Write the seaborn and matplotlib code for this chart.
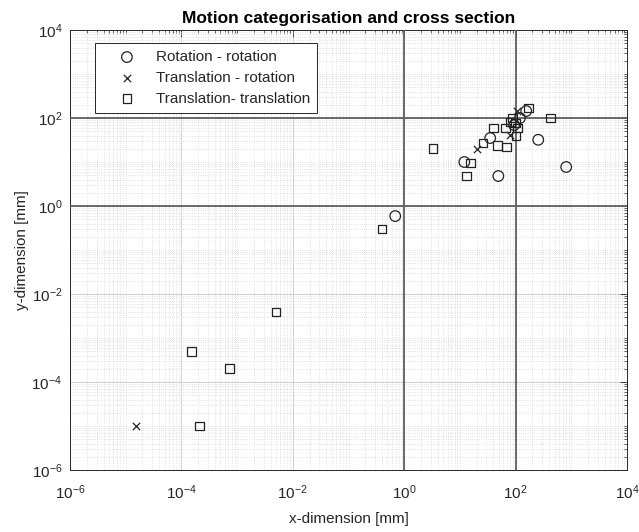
import numpy as np
import pandas as pd
import matplotlib
matplotlib.use("Agg")
import matplotlib.pyplot as plt
import matplotlib.ticker as mticker
import seaborn as sns

# --- data ---
rot_rot_x = [0.69, 12, 49, 35, 255, 810, 94, 120, 155]
rot_rot_y = [0.59, 10, 4.8, 35, 32, 7.7, 69, 100, 144]

trans_rot_x = [1.55e-5, 20, 80, 107]
trans_rot_y = [1.0e-5, 20, 41, 144]

trans_trans_x = [2.1e-4, 1.5e-4, 7.2e-4, 5.0e-3, 0.40, 3.3, 13, 15.3, 26, 47,
                 68, 40, 65, 107, 102, 87, 80, 98, 168, 418]
trans_trans_y = [1.0e-5, 5.0e-4, 2.0e-4, 3.9e-3, 0.30, 20, 4.8, 9.5, 27, 24,
                 22, 59, 59, 59, 39, 100, 81, 77, 168, 100]

labels = ["Rotation - rotation", "Translation - rotation", "Translation- translation"]
x_ticks = [1e-6, 1e-4, 1e-2, 1e0, 1e2, 1e4]
y_ticks = [1e-6, 1e-4, 1e-2, 1e0, 1e2, 1e4]
ref_lines = [1, 100]

sns.set_style("white")
plt.rcParams['font.family'] = ['Liberation Sans', 'DejaVu Sans']
plt.rcParams['mathtext.fontset'] = 'custom'
plt.rcParams['mathtext.rm'] = 'Liberation Sans'
plt.rcParams['mathtext.it'] = 'Liberation Sans'

fig = plt.figure(figsize=(6.39, 5.32), dpi=100)
ax = fig.add_axes([70/639, 1-470/532, (627-70)/639, (470-30)/532])

df1 = pd.DataFrame({"x": rot_rot_x, "y": rot_rot_y})
df2 = pd.DataFrame({"x": trans_rot_x, "y": trans_rot_y})
df3 = pd.DataFrame({"x": trans_trans_x, "y": trans_trans_y})

sns.scatterplot(data=df1, x="x", y="y", marker="o", s=58, facecolor="none",
                edgecolor="#222222", linewidth=0.9, label=labels[0], ax=ax, zorder=5)
sns.scatterplot(data=df2, x="x", y="y", marker="x", s=28, color="#222222",
                linewidth=0.9, label=labels[1], ax=ax, zorder=5)
sns.scatterplot(data=df3, x="x", y="y", marker="s", s=40, facecolor="none",
                edgecolor="#222222", linewidth=0.9, label=labels[2], ax=ax, zorder=5)

ax.set_xscale("log")
ax.set_yscale("log")
ax.set_xlim(1e-6, 1e4)
ax.set_ylim(1e-6, 1e4)

ax.xaxis.set_major_locator(mticker.FixedLocator(x_ticks))
ax.yaxis.set_major_locator(mticker.FixedLocator(y_ticks))
ax.xaxis.set_minor_locator(mticker.LogLocator(base=10, subs=np.arange(1, 10), numticks=100))
ax.yaxis.set_minor_locator(mticker.LogLocator(base=10, subs=np.arange(1, 10), numticks=100))
ax.xaxis.set_minor_formatter(mticker.NullFormatter())
ax.yaxis.set_minor_formatter(mticker.NullFormatter())

ax.grid(True, which="major", color="#d0d0d0", linewidth=0.7, linestyle="-")
ax.grid(True, which="minor", color="#d8d8d8", linewidth=0.6, linestyle=":")
ax.set_axisbelow(True)

for v in ref_lines:
    ax.axhline(v, color="#606060", linewidth=1.3, zorder=3)
    ax.axvline(v, color="#606060", linewidth=1.3, zorder=3)

ax.tick_params(which="both", direction="in", top=True, right=True, colors="#262626",
               labelsize=11, labelcolor="#262626")
ax.tick_params(which="major", length=5, width=0.6)
ax.tick_params(which="minor", length=2.5, width=0.5)
ax.tick_params(axis="y", which="major", pad=5.5)
ax.tick_params(axis="x", which="major", pad=9.5)
for sp in ax.spines.values():
    sp.set_color("#262626")
    sp.set_linewidth(0.7)

ax.set_xlabel("x-dimension [mm]", fontsize=11, color="#262626", labelpad=7)
ax.set_ylabel("y-dimension [mm]", fontsize=11, color="#262626", labelpad=2)
ax.set_title("Motion categorisation and cross section", fontsize=12.5, fontweight="bold",
             color="black", pad=5)

leg = ax.legend(loc="upper left", bbox_to_anchor=(0.045, 0.970), borderaxespad=0,
                fontsize=11, frameon=True, fancybox=False, edgecolor="#262626",
                framealpha=1, borderpad=0.45, handletextpad=0.26, labelspacing=0.45,
                handlelength=3.27)
leg.get_frame().set_linewidth(0.7)

fig.savefig("out.png", dpi=100)
